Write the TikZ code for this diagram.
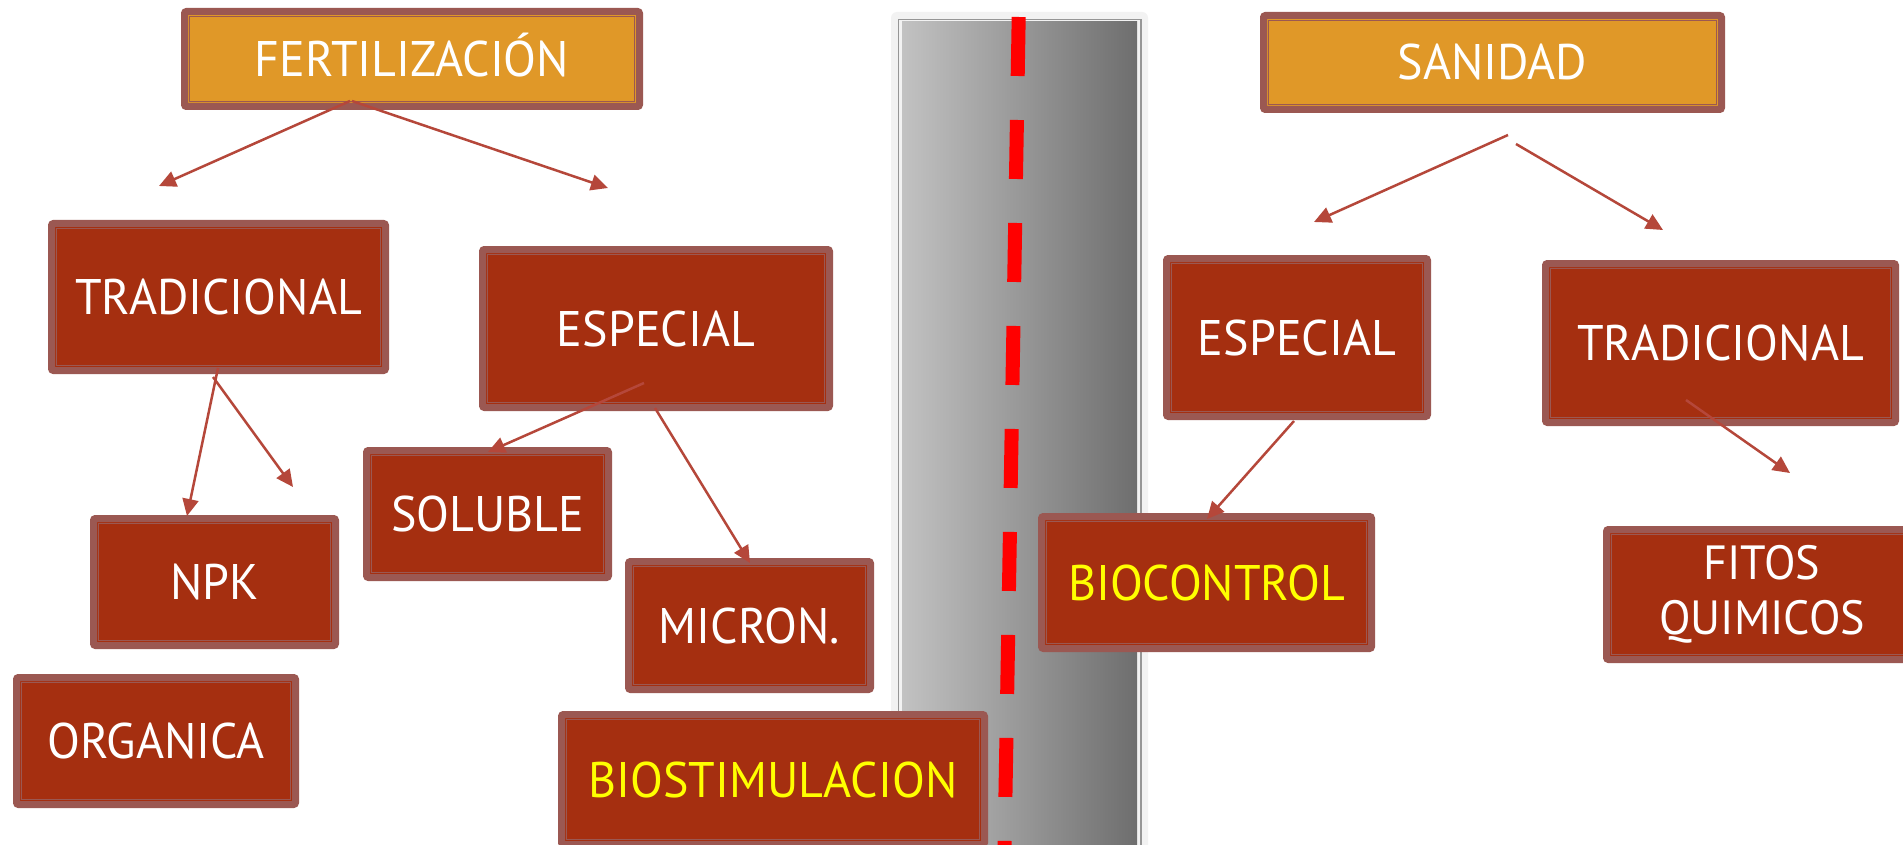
\documentclass[tikz,border=0pt]{standalone}
\usepackage{fontspec}
\setmainfont[FakeStretch=0.96]{PT Sans}
\usetikzlibrary{arrows.meta}
\definecolor{boxred}{RGB}{165,47,16}
\definecolor{boxframe}{RGB}{155,88,82}
\definecolor{boxorange}{RGB}{224,152,40}
\definecolor{arrowred}{RGB}{181,71,58}
\definecolor{barlight}{RGB}{242,242,242}
\definecolor{barline}{RGB}{150,150,150}
\definecolor{barleft}{RGB}{194,194,194}
\definecolor{barright}{RGB}{110,110,110}
\definecolor{textyellow}{RGB}{255,255,0}
\begin{document}
\begin{tikzpicture}[x=1pt, y=-1pt,
	card/.style={draw=boxframe, line width=7pt, fill=boxred, rounded corners=2pt, text=white, inner sep=0pt,
		font=\fontsize{50}{55}\selectfont, text height=35pt, text depth=0pt,
		path picture={\draw[boxframe, line width=1.6pt, sharp corners] ([shift={(5pt,-5pt)}]path picture bounding box.north west) rectangle ([shift={(-5pt,5pt)}]path picture bounding box.south east);}},
	head/.style={card, fill=boxorange},
	bio/.style={card, text=textyellow},
	link/.style={arrowred, line width=2.5pt, -{Triangle[length=17pt,width=16pt]}}]
	\useasboundingbox (0,0) rectangle (1903,845);
	\fill[white] (0,0) rectangle (1903,845);
	\fill[barlight, rounded corners=6pt] (891,12) rectangle (1148,880);
	\draw[barline, line width=1.2pt] (898.5,19.5) rectangle (1141,880);
	\shade[left color=barleft, right color=barright] (902,22) rectangle (1137,880);
	\draw[red, line width=14pt, dash pattern=on 59pt off 44pt] (1018.7,17) -- (1004,880);
	\node[head, minimum width=455pt, minimum height=95pt] (fert) at (412,59) {FERTILIZACIÓN};
	\node[head, minimum width=458pt, minimum height=94pt] (sanidad) at (1492.5,62.5) {SANIDAD};
	\node[card, minimum width=334pt, minimum height=147pt] (tradL) at (218.5,297) {TRADICIONAL};
	\node[card, minimum width=347pt, minimum height=158pt] (espL) at (656,328.5) {ESPECIAL};
	\node[card, minimum width=242pt, minimum height=127pt] (soluble) at (487.5,514) {SOLUBLE};
	\node[card, minimum width=242pt, minimum height=127pt] (npk) at (214.5,582) {NPK};
	\node[card, minimum width=279pt, minimum height=127pt] (organica) at (156,741) {ORGANICA};
	\node[card, minimum width=242pt, minimum height=128pt] (micron) at (749.5,625.5) {MICRON.};
	\node[bio, minimum width=423pt, minimum height=130pt] (biostim) at (773,779.5) {BIOSTIMULACION};
	\node[card, minimum width=261pt, minimum height=158pt] (espR) at (1297,337.5) {ESPECIAL};
	\node[card, minimum width=350pt, minimum height=159pt] (tradR) at (1720.5,343) {TRADICIONAL};
	\node[bio, minimum width=330pt, minimum height=132pt] (biocontrol) at (1206.5,582.5) {BIOCONTROL};
	\node[card, align=center, font=\fontsize{48}{55}\selectfont, text height={}, text depth={}, minimum width=311pt, minimum height=130pt] (fitos) at (1762,594.5) {FITOS\\QUIMICOS};
	\coordinate (fertA) at (350,101);
	\coordinate (fertB) at (352,101);
	\coordinate (fertL) at (159,186);
	\coordinate (fertR) at (608,188);
	\coordinate (tradA) at (218,368);
	\coordinate (tradB) at (213,377);
	\coordinate (tradL1) at (187,516);
	\coordinate (tradL2) at (293,487);
	\coordinate (espA) at (644,383);
	\coordinate (espB) at (655,408);
	\coordinate (espL1) at (488,452);
	\coordinate (espL2) at (750,563);
	\coordinate (sanA) at (1508,135);
	\coordinate (sanB) at (1516,144);
	\coordinate (sanL) at (1314,222);
	\coordinate (sanR) at (1663,230);
	\coordinate (espC) at (1294,421);
	\coordinate (espR1) at (1207,519);
	\coordinate (tradC) at (1686,400);
	\coordinate (tradR1) at (1790,473);
	\draw[link] (fertA) -- (fertL);
	\draw[link] (fertB) -- (fertR);
	\draw[link] (tradA) -- (tradL1);
	\draw[link] (tradB) -- (tradL2);
	\draw[link] (espA) -- (espL1);
	\draw[link] (espB) -- (espL2);
	\draw[link] (sanA) -- (sanL);
	\draw[link] (sanB) -- (sanR);
	\draw[link] (espC) -- (espR1);
	\draw[link] (tradC) -- (tradR1);
\end{tikzpicture}
\end{document}
